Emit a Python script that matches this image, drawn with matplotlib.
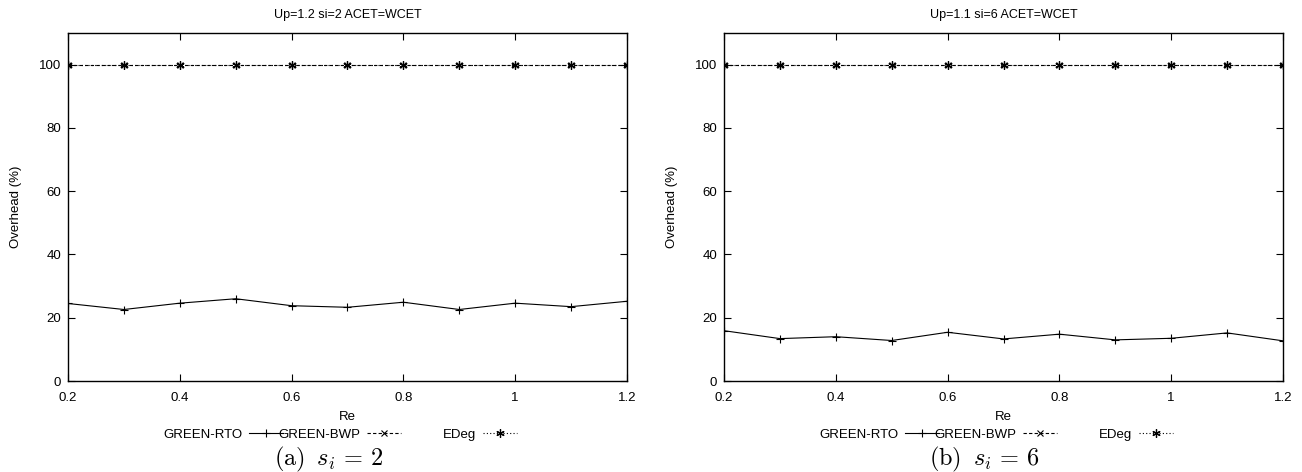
import matplotlib
matplotlib.use('Agg')
import matplotlib.pyplot as plt
from matplotlib.legend import Legend

plt.rcParams['font.family'] = ['Liberation Sans', 'DejaVu Sans']
plt.rcParams['mathtext.fontset'] = 'cm'

re_vals = [0.2, 0.3, 0.4, 0.5, 0.6, 0.7, 0.8, 0.9, 1.0, 1.1, 1.2]
rto_a = [24.5, 22.6, 24.6, 26.0, 23.8, 23.3, 24.9, 22.6, 24.6, 23.5, 25.2]
rto_b = [15.9, 13.4, 14.0, 12.8, 15.4, 13.3, 14.8, 13.0, 13.5, 15.2, 12.7]
bwp_a = [100] * 11
bwp_b = [100] * 11
edeg_a = [100] * 11
edeg_b = [100] * 11
labels = ['GREEN-RTO', 'GREEN-BWP', 'EDeg']
titles = ['Up=1.2 si=2 ACET=WCET', 'Up=1.1 si=6 ACET=WCET']
captions = [r'$\mathrm{(a)}\;\; s_i \,=\, 2$', r'$\mathrm{(b)}\;\; s_i \,=\, 6$']
xticks = [0.2, 0.4, 0.6, 0.8, 1.0, 1.2]
xticklabels = ['0.2', '0.4', '0.6', '0.8', '1', '1.2']
yticks = [0, 20, 40, 60, 80, 100]

fig = plt.figure(figsize=(13.02, 4.72), dpi=100)
lefts = [68 / 1302, 724 / 1302]
panels = [(rto_a, bwp_a, edeg_a), (rto_b, bwp_b, edeg_b)]
asterisk = (6, 2, 0)
leg_x = [0.170, 0.3757, 0.671]   # gnuplot-style key entries, text first

for i, (rto, bwp, edeg) in enumerate(panels):
    ax = fig.add_axes([lefts[i], 1 - 381 / 472, 559 / 1302, 348 / 472])
    h1, = ax.plot(re_vals, rto, color='black', lw=0.8, marker='+', ms=6, mew=0.8)
    h2, = ax.plot(re_vals, bwp, color='black', lw=0.8, ls=(0, (3, 2)), marker='x',
                  ms=4, mew=0.8)
    h3, = ax.plot(re_vals, edeg, color='black', lw=0.8, ls=(0, (1, 2)), marker=asterisk,
                  ms=6, mew=0.9)
    ax.set_xlim(0.2, 1.2)
    ax.set_ylim(0, 110)
    ax.set_xticks(xticks)
    ax.set_xticklabels(xticklabels)
    ax.set_yticks(yticks)
    ax.tick_params(direction='in', top=True, right=True, labelsize=9.5,
                   length=5, width=0.8)
    ax.tick_params(axis='x', pad=8)
    ax.tick_params(axis='y', pad=5)
    for s in ax.spines.values():
        s.set_linewidth(1.0)
    ax.set_title(titles[i], fontsize=9, pad=11)
    ax.set_xlabel('Re', fontsize=9.5, labelpad=5)
    ax.set_ylabel('Overhead (%)', fontsize=9.5, labelpad=12)
    for h, lab, lx in zip([h1, h2, h3], labels, leg_x):
        leg = Legend(ax, [h], [lab], loc='center left', bbox_to_anchor=(lx, -0.155),
                     frameon=False, markerfirst=False, fontsize=9.5,
                     handlelength=2.6, handletextpad=0.5, borderpad=0,
                     borderaxespad=0, numpoints=1)
        ax.add_artist(leg)
    fig.text(lefts[i] + 559 / 1302 / 2 - 19 / 1302, 1 - 459 / 472, captions[i],
             ha='center', va='center', fontsize=17.5)

fig.savefig('out.png', dpi=100)
